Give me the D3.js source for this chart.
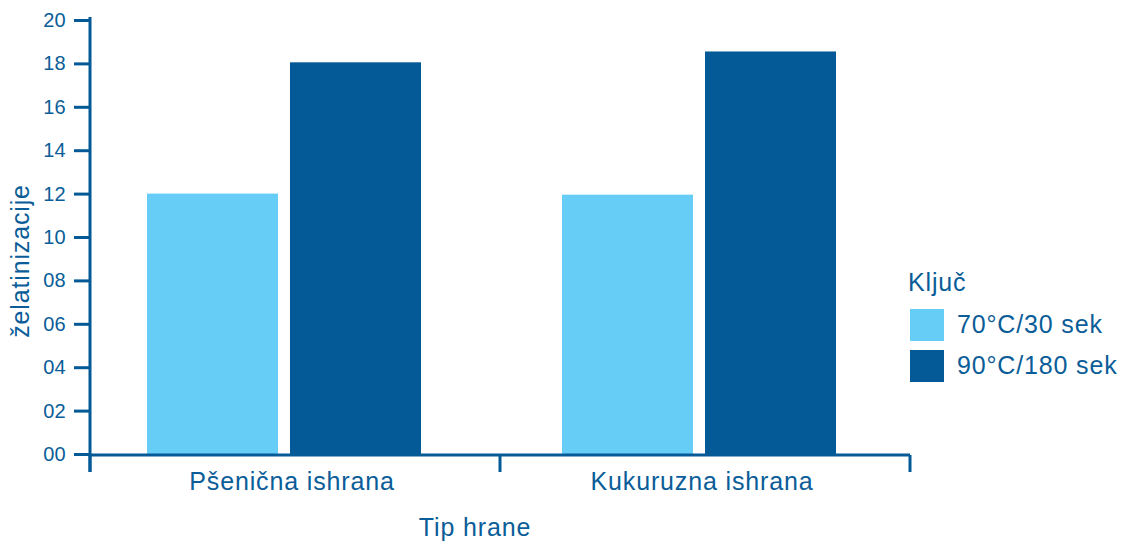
<!DOCTYPE html>
<html><head><meta charset="utf-8">
<script src="https://cdn.jsdelivr.net/npm/d3@7"></script>
<style>body{margin:0;background:#fff}svg{display:block;font-family:"Liberation Sans",Arial,sans-serif}</style>
</head><body>
<svg id="c" width="1121" height="542"></svg>
<script>
const categories = ["Pšenična ishrana", "Kukuruzna ishrana"];
const seriesNames = ["70°C/30 sek", "90°C/180 sek"];
const series70 = [12.0, 11.95];
const series90 = [18.05, 18.55];
const yTicks = [0, 2, 4, 6, 8, 10, 12, 14, 16, 18, 20];
const yTickLabels = ["00","02","04","06","08","10","12","14","16","18","20"];
const colors = ["#66CDF6", "#035A96"];
const textColor = "#0A5D98";
const bigFont = "25px";
const spacing = "0.85px";

const svg = d3.select("#c");
const y = d3.scaleLinear().domain([0, 20]).range([454, 20]);
const x0 = d3.scaleBand().domain(categories).range([90, 910]);
const x1 = d3.scaleBand().domain(seriesNames).range([57, 331]).paddingInner(0.084);
const groupShift = d3.scaleOrdinal().domain(categories).range([0, 5]);

const vals = [series70, series90];
const g = svg.append("g");
categories.forEach((c, ci) => {
  seriesNames.forEach((s, si) => {
    const v = vals[si][ci];
    g.append("rect")
      .attr("x", x0(c) + x1(s) + groupShift(c))
      .attr("y", y(v))
      .attr("width", x1.bandwidth())
      .attr("height", y(0) - y(v))
      .attr("fill", colors[si]);
  });
});

// Y axis
const yAxis = svg.append("g").attr("transform", "translate(90,0)")
  .call(d3.axisLeft(y).tickValues(yTicks).tickFormat((d, i) => yTickLabels[i]).tickSize(16).tickPadding(8));
yAxis.select(".domain").attr("stroke", colors[1]).attr("stroke-width", 3).attr("d", "M0,17V472");
yAxis.selectAll(".tick line").attr("stroke", colors[1]).attr("stroke-width", 3);
yAxis.selectAll(".tick text").attr("fill", textColor).style("font-size", "20px")
  .style("letter-spacing", "0.3px").style("font-family", "Liberation Sans, Arial, sans-serif");

// X axis
const xAxis = svg.append("g").attr("transform", "translate(0,455)")
  .call(d3.axisBottom(x0).tickSize(0).tickPadding(17));
xAxis.select(".domain").attr("stroke", colors[1]).attr("stroke-width", 3).attr("d", "M90,0H910");
xAxis.selectAll(".tick text").attr("fill", textColor).attr("dx", -3).style("font-size", bigFont)
  .style("letter-spacing", spacing).style("font-family", "Liberation Sans, Arial, sans-serif");
const bounds = [90, 500, 910];
xAxis.selectAll(".sep").data(bounds).enter().append("line")
  .attr("x1", d => d).attr("x2", d => d).attr("y1", 0).attr("y2", 17)
  .attr("stroke", colors[1]).attr("stroke-width", 3);

// Titles
svg.append("text").attr("x", 475).attr("y", 536).attr("text-anchor", "middle")
  .attr("fill", textColor).style("font-size", bigFont).style("letter-spacing", spacing).text("Tip hrane");
svg.append("text").attr("transform", "translate(29,261) rotate(-90)").attr("text-anchor", "middle")
  .attr("fill", textColor).style("font-size", bigFont).style("letter-spacing", spacing).text("želatinizacije");

// Legend
const lg = svg.append("g");
lg.append("text").attr("x", 908).attr("y", 291).attr("fill", textColor)
  .style("font-size", bigFont).style("letter-spacing", spacing).text("Ključ");
seriesNames.forEach((s, i) => {
  lg.append("rect").attr("x", 910).attr("y", 309 + i * 41).attr("width", 34).attr("height", 32).attr("fill", colors[i]);
  lg.append("text").attr("x", 957).attr("y", 333 + i * 41).attr("fill", textColor)
    .style("font-size", bigFont).style("letter-spacing", spacing).text(s);
});
</script>
</body></html>
